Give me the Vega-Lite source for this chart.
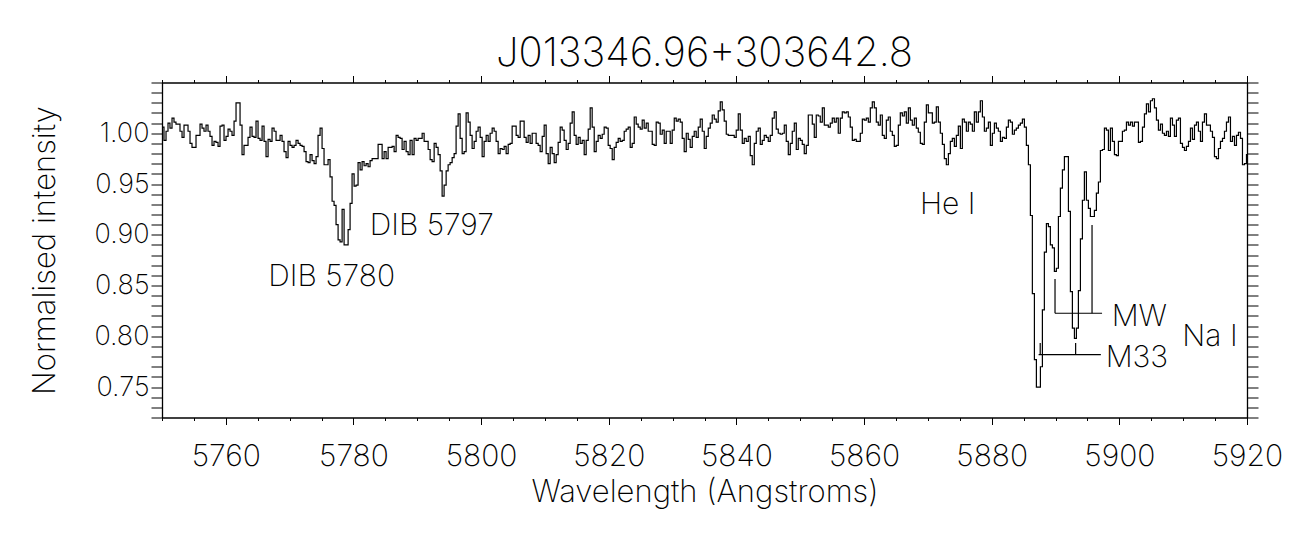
{
"$schema": "https://vega.github.io/schema/vega-lite/v6.json",
"width": 1085, "height": 335,
"autosize": {"type": "none"},
"padding": {"left": 162, "top": 82.5, "right": 54, "bottom": 115.5},
"background": "white",
"title": {"text": "J013346.96+303642.8", "font": "Inter", "fontSize": 40, "fontWeight": 200, "color": "black", "anchor": "middle", "frame": "group", "baseline": "alphabetic", "offset": -37},
"config": {"view": {"stroke": null}, "axis": {"grid": false, "domainColor": "black", "domainWidth": 1.3, "tickColor": "black", "tickWidth": 1, "labelColor": "black", "titleColor": "black", "labelFont": "Inter", "titleFont": "Inter", "labelFontWeight": 200, "titleFontWeight": 200}},
"layer": [
{
"data": {"values": [
{"w":5750.00,"f":1.006},{"w":5750.31,"f":0.993},{"w":5750.63,"f":1.002},{"w":5750.94,"f":1.010},{"w":5751.25,"f":1.005},{"w":5751.57,"f":1.015},{"w":5751.88,"f":1.011},{"w":5752.19,"f":1.009},{"w":5752.51,"f":1.009},{"w":5752.82,"f":1.002},{"w":5753.14,"f":0.996},{"w":5753.45,"f":1.008},{"w":5753.76,"f":1.008},{"w":5754.08,"f":1.002},{"w":5754.39,"f":0.990},{"w":5754.70,"f":0.986},{"w":5755.02,"f":0.986},{"w":5755.33,"f":0.998},{"w":5755.64,"f":0.998},{"w":5755.96,"f":1.009},
{"w":5756.27,"f":1.005},{"w":5756.58,"f":1.002},{"w":5756.90,"f":1.008},{"w":5757.21,"f":1.002},{"w":5757.52,"f":0.997},{"w":5757.84,"f":0.988},{"w":5758.15,"f":0.992},{"w":5758.46,"f":0.991},{"w":5758.78,"f":0.987},{"w":5759.09,"f":1.007},{"w":5759.41,"f":1.008},{"w":5759.72,"f":0.993},{"w":5760.03,"f":0.997},{"w":5760.35,"f":1.004},{"w":5760.66,"f":1.002},{"w":5760.97,"f":0.998},{"w":5761.29,"f":1.012},{"w":5761.60,"f":1.030},{"w":5761.91,"f":1.030},{"w":5762.23,"f":1.008},
{"w":5762.54,"f":0.979},{"w":5762.85,"f":0.988},{"w":5763.17,"f":0.988},{"w":5763.48,"f":0.996},{"w":5763.79,"f":1.006},{"w":5764.11,"f":0.997},{"w":5764.42,"f":0.996},{"w":5764.73,"f":1.012},{"w":5765.05,"f":0.995},{"w":5765.36,"f":0.993},{"w":5765.68,"f":1.007},{"w":5765.99,"f":0.992},{"w":5766.30,"f":0.977},{"w":5766.62,"f":0.994},{"w":5766.93,"f":0.992},{"w":5767.24,"f":1.005},{"w":5767.56,"f":1.002},{"w":5767.87,"f":0.993},{"w":5768.18,"f":0.993},{"w":5768.50,"f":0.998},
{"w":5768.81,"f":0.992},{"w":5769.12,"f":0.982},{"w":5769.44,"f":0.976},{"w":5769.75,"f":0.992},{"w":5770.06,"f":0.988},{"w":5770.38,"f":0.986},{"w":5770.69,"f":0.988},{"w":5771.00,"f":0.993},{"w":5771.32,"f":0.990},{"w":5771.63,"f":0.988},{"w":5771.95,"f":0.987},{"w":5772.26,"f":0.982},{"w":5772.57,"f":0.972},{"w":5772.89,"f":0.971},{"w":5773.20,"f":0.979},{"w":5773.51,"f":0.973},{"w":5773.83,"f":0.970},{"w":5774.14,"f":0.977},{"w":5774.45,"f":0.998},{"w":5774.77,"f":1.005},
{"w":5775.08,"f":0.985},{"w":5775.39,"f":0.969},{"w":5775.71,"f":0.969},{"w":5776.02,"f":0.974},{"w":5776.33,"f":0.957},{"w":5776.65,"f":0.933},{"w":5776.96,"f":0.929},{"w":5777.27,"f":0.910},{"w":5777.59,"f":0.895},{"w":5777.90,"f":0.893},{"w":5778.22,"f":0.925},{"w":5778.53,"f":0.890},{"w":5778.84,"f":0.890},{"w":5779.16,"f":0.905},{"w":5779.47,"f":0.931},{"w":5779.78,"f":0.960},{"w":5780.10,"f":0.948},{"w":5780.41,"f":0.949},{"w":5780.72,"f":0.971},{"w":5781.04,"f":0.964},
{"w":5781.35,"f":0.972},{"w":5781.66,"f":0.968},{"w":5781.98,"f":0.970},{"w":5782.29,"f":0.967},{"w":5782.60,"f":0.973},{"w":5782.92,"f":0.975},{"w":5783.23,"f":0.975},{"w":5783.54,"f":0.975},{"w":5783.86,"f":0.989},{"w":5784.17,"f":0.989},{"w":5784.49,"f":0.975},{"w":5784.80,"f":0.982},{"w":5785.11,"f":0.975},{"w":5785.43,"f":0.986},{"w":5785.74,"f":0.986},{"w":5786.05,"f":0.987},{"w":5786.37,"f":0.982},{"w":5786.68,"f":0.998},{"w":5786.99,"f":0.996},{"w":5787.31,"f":0.995},
{"w":5787.62,"f":0.984},{"w":5787.93,"f":0.992},{"w":5788.25,"f":0.982},{"w":5788.56,"f":0.979},{"w":5788.87,"f":0.993},{"w":5789.19,"f":0.979},{"w":5789.50,"f":0.995},{"w":5789.81,"f":0.993},{"w":5790.13,"f":0.995},{"w":5790.44,"f":0.995},{"w":5790.76,"f":1.000},{"w":5791.07,"f":0.992},{"w":5791.38,"f":0.992},{"w":5791.70,"f":0.984},{"w":5792.01,"f":0.974},{"w":5792.32,"f":0.972},{"w":5792.64,"f":0.990},{"w":5792.95,"f":0.986},{"w":5793.26,"f":0.979},{"w":5793.58,"f":0.963},
{"w":5793.89,"f":0.938},{"w":5794.20,"f":0.949},{"w":5794.52,"f":0.963},{"w":5794.83,"f":0.969},{"w":5795.14,"f":0.971},{"w":5795.46,"f":0.976},{"w":5795.77,"f":0.980},{"w":5796.08,"f":1.007},{"w":5796.40,"f":1.019},{"w":5796.71,"f":0.995},{"w":5797.03,"f":0.980},{"w":5797.34,"f":0.982},{"w":5797.65,"f":1.020},{"w":5797.97,"f":1.011},{"w":5798.28,"f":0.998},{"w":5798.59,"f":0.985},{"w":5798.91,"f":0.992},{"w":5799.22,"f":1.002},{"w":5799.53,"f":1.006},{"w":5799.85,"f":0.996},
{"w":5800.16,"f":0.977},{"w":5800.47,"f":0.992},{"w":5800.79,"f":0.998},{"w":5801.10,"f":0.992},{"w":5801.41,"f":1.000},{"w":5801.73,"f":1.005},{"w":5802.04,"f":1.002},{"w":5802.35,"f":0.992},{"w":5802.67,"f":0.980},{"w":5802.98,"f":0.985},{"w":5803.30,"f":0.984},{"w":5803.61,"f":0.987},{"w":5803.92,"f":0.980},{"w":5804.24,"f":0.989},{"w":5804.55,"f":0.990},{"w":5804.86,"f":1.007},{"w":5805.18,"f":1.007},{"w":5805.49,"f":0.998},{"w":5805.80,"f":0.996},{"w":5806.12,"f":1.012},
{"w":5806.43,"f":1.012},{"w":5806.74,"f":0.996},{"w":5807.06,"f":0.991},{"w":5807.37,"f":0.998},{"w":5807.68,"f":0.990},{"w":5808.00,"f":1.000},{"w":5808.31,"f":1.000},{"w":5808.62,"f":0.990},{"w":5808.94,"f":0.988},{"w":5809.25,"f":0.982},{"w":5809.57,"f":0.997},{"w":5809.88,"f":1.008},{"w":5810.19,"f":0.980},{"w":5810.51,"f":0.970},{"w":5810.82,"f":0.986},{"w":5811.13,"f":0.980},{"w":5811.45,"f":0.971},{"w":5811.76,"f":0.979},{"w":5812.07,"f":0.991},{"w":5812.39,"f":1.006},
{"w":5812.70,"f":1.003},{"w":5813.01,"f":0.993},{"w":5813.33,"f":0.984},{"w":5813.64,"f":0.990},{"w":5813.95,"f":1.010},{"w":5814.27,"f":1.021},{"w":5814.58,"f":0.998},{"w":5814.89,"f":0.989},{"w":5815.21,"f":0.996},{"w":5815.52,"f":0.990},{"w":5815.84,"f":0.993},{"w":5816.15,"f":0.979},{"w":5816.46,"f":0.993},{"w":5816.78,"f":1.004},{"w":5817.09,"f":1.025},{"w":5817.40,"f":1.006},{"w":5817.72,"f":0.982},{"w":5818.03,"f":0.992},{"w":5818.34,"f":0.998},{"w":5818.66,"f":0.995},
{"w":5818.97,"f":0.999},{"w":5819.28,"f":1.006},{"w":5819.60,"f":1.005},{"w":5819.91,"f":0.988},{"w":5820.22,"f":0.985},{"w":5820.54,"f":0.974},{"w":5820.85,"f":0.986},{"w":5821.16,"f":0.991},{"w":5821.48,"f":0.995},{"w":5821.79,"f":0.992},{"w":5822.11,"f":0.993},{"w":5822.42,"f":1.002},{"w":5822.73,"f":1.004},{"w":5823.05,"f":1.006},{"w":5823.36,"f":0.986},{"w":5823.67,"f":0.990},{"w":5823.99,"f":1.016},{"w":5824.30,"f":1.009},{"w":5824.61,"f":1.006},{"w":5824.93,"f":1.004},
{"w":5825.24,"f":1.013},{"w":5825.55,"f":1.005},{"w":5825.87,"f":1.010},{"w":5826.18,"f":1.002},{"w":5826.49,"f":1.002},{"w":5826.81,"f":0.989},{"w":5827.12,"f":0.988},{"w":5827.43,"f":1.011},{"w":5827.75,"f":1.010},{"w":5828.06,"f":0.999},{"w":5828.38,"f":1.003},{"w":5828.69,"f":0.990},{"w":5829.00,"f":1.002},{"w":5829.32,"f":1.002},{"w":5829.63,"f":0.990},{"w":5829.94,"f":1.003},{"w":5830.26,"f":1.015},{"w":5830.57,"f":1.012},{"w":5830.88,"f":1.014},{"w":5831.20,"f":1.011},
{"w":5831.51,"f":0.995},{"w":5831.82,"f":0.982},{"w":5832.14,"f":1.000},{"w":5832.45,"f":0.994},{"w":5832.76,"f":0.986},{"w":5833.08,"f":0.997},{"w":5833.39,"f":1.002},{"w":5833.70,"f":0.996},{"w":5834.02,"f":1.006},{"w":5834.33,"f":1.014},{"w":5834.65,"f":1.002},{"w":5834.96,"f":0.985},{"w":5835.27,"f":0.997},{"w":5835.59,"f":1.005},{"w":5835.90,"f":1.010},{"w":5836.21,"f":1.018},{"w":5836.53,"f":1.014},{"w":5836.84,"f":1.011},{"w":5837.15,"f":1.022},{"w":5837.47,"f":1.031},
{"w":5837.78,"f":1.023},{"w":5838.09,"f":1.012},{"w":5838.41,"f":0.999},{"w":5838.72,"f":0.998},{"w":5839.03,"f":0.998},{"w":5839.35,"f":0.998},{"w":5839.66,"f":0.996},{"w":5839.97,"f":1.003},{"w":5840.29,"f":1.019},{"w":5840.60,"f":1.003},{"w":5840.92,"f":0.990},{"w":5841.23,"f":0.995},{"w":5841.54,"f":0.992},{"w":5841.86,"f":0.997},{"w":5842.17,"f":0.978},{"w":5842.48,"f":0.969},{"w":5842.80,"f":0.990},{"w":5843.11,"f":1.002},{"w":5843.42,"f":1.005},{"w":5843.74,"f":0.989},
{"w":5844.05,"f":0.993},{"w":5844.36,"f":0.998},{"w":5844.68,"f":0.996},{"w":5844.99,"f":0.992},{"w":5845.30,"f":0.998},{"w":5845.62,"f":1.015},{"w":5845.93,"f":1.021},{"w":5846.24,"f":1.004},{"w":5846.56,"f":1.000},{"w":5846.87,"f":0.999},{"w":5847.19,"f":1.000},{"w":5847.50,"f":1.008},{"w":5847.81,"f":0.992},{"w":5848.13,"f":0.979},{"w":5848.44,"f":0.990},{"w":5848.75,"f":1.002},{"w":5849.07,"f":1.010},{"w":5849.38,"f":0.984},{"w":5849.69,"f":0.995},{"w":5850.01,"f":0.993},
{"w":5850.32,"f":0.989},{"w":5850.63,"f":0.980},{"w":5850.95,"f":0.988},{"w":5851.26,"f":1.018},{"w":5851.57,"f":1.018},{"w":5851.89,"f":1.009},{"w":5852.20,"f":0.996},{"w":5852.51,"f":1.018},{"w":5852.83,"f":1.017},{"w":5853.14,"f":1.011},{"w":5853.46,"f":1.025},{"w":5853.77,"f":1.008},{"w":5854.08,"f":1.008},{"w":5854.40,"f":1.006},{"w":5854.71,"f":1.010},{"w":5855.02,"f":1.015},{"w":5855.34,"f":1.011},{"w":5855.65,"f":1.015},{"w":5855.96,"f":1.000},{"w":5856.28,"f":1.015},
{"w":5856.59,"f":1.021},{"w":5856.90,"f":1.020},{"w":5857.22,"f":1.021},{"w":5857.53,"f":1.016},{"w":5857.84,"f":1.006},{"w":5858.16,"f":0.993},{"w":5858.47,"f":0.994},{"w":5858.78,"f":0.992},{"w":5859.10,"f":0.992},{"w":5859.41,"f":1.000},{"w":5859.73,"f":1.014},{"w":5860.04,"f":1.013},{"w":5860.35,"f":1.015},{"w":5860.67,"f":1.011},{"w":5860.98,"f":1.025},{"w":5861.29,"f":1.031},{"w":5861.61,"f":1.025},{"w":5861.92,"f":1.011},{"w":5862.23,"f":1.008},{"w":5862.55,"f":1.018},
{"w":5862.86,"f":0.998},{"w":5863.17,"f":0.995},{"w":5863.49,"f":1.013},{"w":5863.80,"f":1.016},{"w":5864.11,"f":1.002},{"w":5864.43,"f":0.998},{"w":5864.74,"f":0.987},{"w":5865.05,"f":0.988},{"w":5865.37,"f":1.008},{"w":5865.68,"f":1.020},{"w":5866.00,"f":1.017},{"w":5866.31,"f":1.021},{"w":5866.62,"f":1.010},{"w":5866.94,"f":1.025},{"w":5867.25,"f":1.013},{"w":5867.56,"f":1.008},{"w":5867.88,"f":1.015},{"w":5868.19,"f":1.005},{"w":5868.50,"f":1.001},{"w":5868.82,"f":0.990},
{"w":5869.13,"f":0.989},{"w":5869.44,"f":1.011},{"w":5869.76,"f":1.028},{"w":5870.07,"f":1.020},{"w":5870.38,"f":1.020},{"w":5870.70,"f":1.010},{"w":5871.01,"f":1.011},{"w":5871.32,"f":1.026},{"w":5871.64,"f":1.011},{"w":5871.95,"f":1.000},{"w":5872.27,"f":0.989},{"w":5872.58,"f":0.975},{"w":5872.89,"f":0.969},{"w":5873.21,"f":0.980},{"w":5873.52,"f":0.992},{"w":5873.83,"f":0.995},{"w":5874.15,"f":0.987},{"w":5874.46,"f":0.998},{"w":5874.77,"f":1.007},{"w":5875.09,"f":0.985},
{"w":5875.40,"f":1.014},{"w":5875.71,"f":1.011},{"w":5876.03,"f":1.002},{"w":5876.34,"f":1.011},{"w":5876.65,"f":1.009},{"w":5876.97,"f":1.002},{"w":5877.28,"f":1.021},{"w":5877.59,"f":1.011},{"w":5877.91,"f":1.021},{"w":5878.22,"f":1.032},{"w":5878.54,"f":1.016},{"w":5878.85,"f":1.002},{"w":5879.16,"f":1.005},{"w":5879.48,"f":1.011},{"w":5879.79,"f":0.988},{"w":5880.10,"f":1.000},{"w":5880.42,"f":1.010},{"w":5880.73,"f":1.005},{"w":5881.04,"f":1.002},{"w":5881.36,"f":0.992},
{"w":5881.67,"f":0.996},{"w":5881.98,"f":0.995},{"w":5882.30,"f":1.006},{"w":5882.61,"f":1.013},{"w":5882.92,"f":1.011},{"w":5883.24,"f":0.999},{"w":5883.55,"f":1.003},{"w":5883.86,"f":1.005},{"w":5884.18,"f":1.008},{"w":5884.49,"f":1.010},{"w":5884.81,"f":1.014},{"w":5885.12,"f":1.006},{"w":5885.43,"f":0.988},{"w":5885.75,"f":0.969},{"w":5886.06,"f":0.919},{"w":5886.37,"f":0.842},{"w":5886.69,"f":0.777},{"w":5887.00,"f":0.750},{"w":5887.31,"f":0.750},{"w":5887.63,"f":0.770},
{"w":5887.94,"f":0.826},{"w":5888.25,"f":0.883},{"w":5888.57,"f":0.911},{"w":5888.88,"f":0.908},{"w":5889.19,"f":0.890},{"w":5889.51,"f":0.887},{"w":5889.82,"f":0.864},{"w":5890.13,"f":0.867},{"w":5890.45,"f":0.918},{"w":5890.76,"f":0.946},{"w":5891.08,"f":0.964},{"w":5891.39,"f":0.977},{"w":5891.70,"f":0.977},{"w":5892.02,"f":0.923},{"w":5892.33,"f":0.844},{"w":5892.64,"f":0.808},{"w":5892.96,"f":0.798},{"w":5893.27,"f":0.808},{"w":5893.58,"f":0.845},{"w":5893.90,"f":0.896},
{"w":5894.21,"f":0.934},{"w":5894.52,"f":0.962},{"w":5894.84,"f":0.934},{"w":5895.15,"f":0.926},{"w":5895.46,"f":0.918},{"w":5895.78,"f":0.918},{"w":5896.09,"f":0.924},{"w":5896.40,"f":0.941},{"w":5896.72,"f":0.952},{"w":5897.03,"f":0.983},{"w":5897.35,"f":0.984},{"w":5897.66,"f":1.005},{"w":5897.97,"f":1.003},{"w":5898.29,"f":0.983},{"w":5898.60,"f":1.005},{"w":5898.91,"f":0.992},{"w":5899.23,"f":0.979},{"w":5899.54,"f":0.978},{"w":5899.85,"f":0.992},{"w":5900.17,"f":0.992},
{"w":5900.48,"f":1.002},{"w":5900.79,"f":1.003},{"w":5901.11,"f":1.011},{"w":5901.42,"f":1.008},{"w":5901.73,"f":1.011},{"w":5902.05,"f":1.007},{"w":5902.36,"f":1.011},{"w":5902.67,"f":1.011},{"w":5902.99,"f":0.991},{"w":5903.30,"f":0.992},{"w":5903.62,"f":1.006},{"w":5903.93,"f":1.019},{"w":5904.24,"f":1.029},{"w":5904.56,"f":1.021},{"w":5904.87,"f":1.032},{"w":5905.18,"f":1.034},{"w":5905.50,"f":1.025},{"w":5905.81,"f":1.013},{"w":5906.12,"f":1.003},{"w":5906.44,"f":1.009},
{"w":5906.75,"f":1.000},{"w":5907.06,"f":0.998},{"w":5907.38,"f":1.002},{"w":5907.69,"f":0.997},{"w":5908.00,"f":1.015},{"w":5908.32,"f":1.008},{"w":5908.63,"f":0.997},{"w":5908.94,"f":1.013},{"w":5909.26,"f":1.015},{"w":5909.57,"f":0.990},{"w":5909.89,"f":0.986},{"w":5910.20,"f":0.983},{"w":5910.51,"f":0.987},{"w":5910.83,"f":0.992},{"w":5911.14,"f":1.005},{"w":5911.45,"f":0.994},{"w":5911.77,"f":1.008},{"w":5912.08,"f":1.011},{"w":5912.39,"f":1.002},{"w":5912.71,"f":0.992},
{"w":5913.02,"f":1.011},{"w":5913.33,"f":1.019},{"w":5913.65,"f":1.008},{"w":5913.96,"f":1.008},{"w":5914.27,"f":1.002},{"w":5914.59,"f":0.996},{"w":5914.90,"f":0.977},{"w":5915.21,"f":0.975},{"w":5915.53,"f":0.985},{"w":5915.84,"f":0.992},{"w":5916.16,"f":0.995},{"w":5916.47,"f":1.002},{"w":5916.78,"f":1.011},{"w":5917.10,"f":1.016},{"w":5917.41,"f":0.992},{"w":5917.72,"f":0.997},{"w":5918.04,"f":0.988},{"w":5918.35,"f":0.998},{"w":5918.66,"f":1.001},{"w":5918.98,"f":0.995},
{"w":5919.29,"f":0.969},{"w":5919.60,"f":0.970},{"w":5919.92,"f":0.979},{"w":5920.00,"f":0.979}
]},
"mark": {"type": "line", "interpolate": "step-after", "color": "black", "strokeWidth": 1.2, "clip": true},
"encoding": {
"x": {"field": "w", "type": "quantitative", "scale": {"domain": [5750, 5920], "nice": false, "zero": false},
"axis": {"orient": "bottom", "values": [5750,5755,5760,5765,5770,5775,5780,5785,5790,5795,5800,5805,5810,5815,5820,5825,5830,5835,5840,5845,5850,5855,5860,5865,5870,5875,5880,5885,5890,5895,5900,5905,5910,5915,5920],
"format": "d", "labelExpr": "datum.value % 20 === 0 ? datum.label : ''",
"tickSize": {"condition": {"test": "datum.value % 20 === 0", "value": 7}, "value": 3},
"labelFontSize": 30, "labelPadding": 17, "labelFlush": false, "labelOverlap": false,
"title": "Wavelength (Angstroms)", "titleFontSize": 31, "titlePadding": 6}},
"y": {"field": "f", "type": "quantitative", "scale": {"domain": [0.72, 1.05], "nice": false, "zero": false},
"axis": {"orient": "left", "values": [0.72,0.73,0.74,0.75,0.76,0.77,0.78,0.79,0.8,0.81,0.82,0.83,0.84,0.85,0.86,0.87,0.88,0.89,0.9,0.91,0.92,0.93,0.94,0.95,0.96,0.97,0.98,0.99,1.0,1.01,1.02,1.03,1.04,1.05],
"labelExpr": "datum.value < 1.04 && abs(datum.value*20 - round(datum.value*20)) < 0.001 ? format(datum.value, '.2f') : ''",
"tickSize": 11, "labelFontSize": 27, "labelPadding": 2, "labelFlush": false, "labelOverlap": false,
"title": "Normalised intensity", "titleFontSize": 31, "titleX": -117, "titleY": 167.5, "titleAngle": -90, "titleAlign": "center", "titleBaseline": "middle"}}
}
},
{
"data": {"values": [
{"x": 5889.92, "x2": 5889.92, "y": 0.8564, "y2": 0.8227},
{"x": 5895.72, "x2": 5895.72, "y": 0.9096, "y2": 0.8227},
{"x": 5889.92, "x2": 5897.29, "y": 0.8227, "y2": 0.8227},
{"x": 5887.35, "x2": 5897.10, "y": 0.7819, "y2": 0.7819},
{"x": 5887.60, "x2": 5887.60, "y": 0.7934, "y2": 0.7819},
{"x": 5893.15, "x2": 5893.15, "y": 0.7934, "y2": 0.7819}
]},
"mark": {"type": "rule", "color": "black", "strokeWidth": 1.2},
"encoding": {
"x": {"field": "x", "type": "quantitative", "scale": {"domain": [5750, 5920], "nice": false, "zero": false},
"axis": {"orient": "top", "values": [5750,5755,5760,5765,5770,5775,5780,5785,5790,5795,5800,5805,5810,5815,5820,5825,5830,5835,5840,5845,5850,5855,5860,5865,5870,5875,5880,5885,5890,5895,5900,5905,5910,5915,5920],
"labels": false, "title": null, "tickSize": {"condition": {"test": "datum.value % 20 === 0", "value": 7}, "value": 3}}},
"x2": {"field": "x2"},
"y": {"field": "y", "type": "quantitative", "scale": {"domain": [0.72, 1.05], "nice": false, "zero": false},
"axis": {"orient": "right", "values": [0.72,0.73,0.74,0.75,0.76,0.77,0.78,0.79,0.8,0.81,0.82,0.83,0.84,0.85,0.86,0.87,0.88,0.89,0.9,0.91,0.92,0.93,0.94,0.95,0.96,0.97,0.98,0.99,1.0,1.01,1.02,1.03,1.04,1.05],
"labels": false, "title": null, "tickSize": 11}},
"y2": {"field": "y2"}
}
},
{
"data": {"values": [
{"x": 5766.66, "y": 0.8498, "t": "DIB 5780"},
{"x": 5782.55, "y": 0.9001, "t": "DIB 5797"},
{"x": 5868.76, "y": 0.9205, "t": "He I"},
{"x": 5898.80, "y": 0.8098, "t": "MW"},
{"x": 5897.85, "y": 0.7695, "t": "M33"},
{"x": 5909.87, "y": 0.7901, "t": "Na I"}
]},
"mark": {"type": "text", "align": "left", "baseline": "alphabetic", "font": "Inter", "fontSize": 30, "fontWeight": 200, "color": "black"},
"encoding": {
"x": {"field": "x", "type": "quantitative", "scale": {"domain": [5750, 5920], "nice": false, "zero": false}, "axis": null},
"y": {"field": "y", "type": "quantitative", "scale": {"domain": [0.72, 1.05], "nice": false, "zero": false}, "axis": null},
"text": {"field": "t"}
}
}
],
"resolve": {"axis": {"x": "independent", "y": "independent"}}
}
